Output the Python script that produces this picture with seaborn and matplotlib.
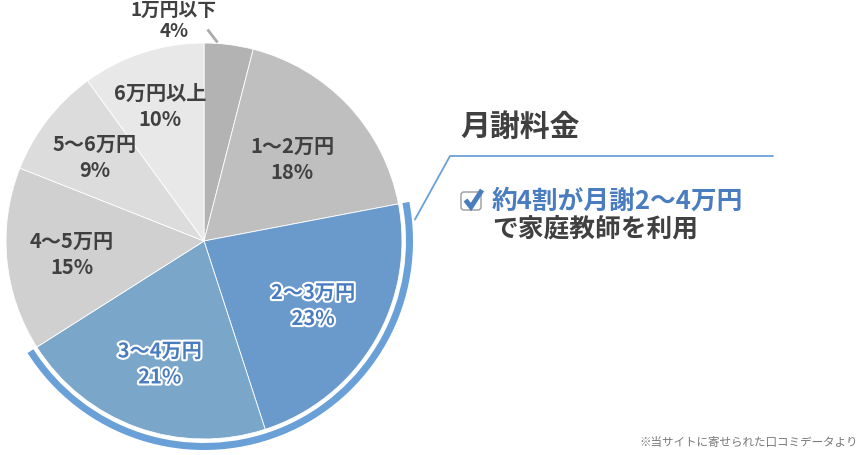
import numpy as np
import matplotlib
matplotlib.use("Agg")
import matplotlib.pyplot as plt
import matplotlib.patheffects as pe
from matplotlib.patches import Wedge, FancyBboxPatch
import seaborn as sns

# data
categories = ["1万円以下", "1〜2万円", "2〜3万円", "3〜4万円", "4〜5万円", "5〜6万円", "6万円以上"]
shares = [4, 18, 23, 21, 15, 9, 10]
slice_colors = ["#b3b3b3", "#bfbfbf", "#6a9acb", "#7aa6ca", "#d0d0d0", "#dcdcdc", "#e8e8e8"]
highlight = ["2〜3万円", "3〜4万円"]

title = "月謝料金"
headline = "約4割が月謝2〜4万円"
subline = "で家庭教師を利用"
note = "※当サイトに寄せられた口コミデータより"

W, H = 868, 456
DARK = "#404040"
BLUE = "#4a7cc0"
ARC = "#6aa0d8"

sns.set_theme(style="white")
plt.rcParams["font.family"] = ["Noto Sans CJK JP", "DejaVu Sans"]

fig = plt.figure(figsize=(W / 100, H / 100), dpi=100)
ax = fig.add_axes([0, 0, 1, 1])

cx, cy, r = 204, H - 242, 198
wedges, _ = ax.pie(
    shares,
    colors=slice_colors,
    startangle=90,
    counterclock=False,
    center=(cx, cy),
    radius=r,
    wedgeprops=dict(edgecolor="white", linewidth=0.6),
)
ax.set_xlim(0, W)
ax.set_ylim(0, H)
ax.set_aspect("equal")
ax.axis("off")

# labels inside slices
dist = [None, 0.61, 0.64, 0.66, 0.67, 0.70, 0.72]
for w, cat, val, d in zip(wedges, categories, shares, dist):
    if d is None:
        continue
    mid = np.deg2rad((w.theta1 + w.theta2) / 2)
    x = cx + d * r * np.cos(mid)
    y = cy + d * r * np.sin(mid)
    if cat in highlight:
        style = dict(fontweight="bold", color=BLUE,
                     path_effects=[pe.withStroke(linewidth=3, foreground="white")])
    else:
        style = dict(fontweight="bold", color=DARK)
    ax.text(x, y + 13, cat, fontsize=14.5, ha="center", va="center", **style)
    ax.text(x, y - 13, f"{val}%", fontsize=14.5, ha="center", va="center", **style)

# small slice label outside with leader
w0 = wedges[0]
a0 = np.deg2rad(w0.theta2 - 0.27 * (w0.theta2 - w0.theta1))
ex, ey = cx + (r + 1) * np.cos(a0), cy + (r + 1) * np.sin(a0)
ax.plot([ex - 10, ex], [ey + 13, ey], color="#aaaaaa", lw=2, solid_capstyle="butt")
ax.text(174, H - 10, categories[0], fontsize=13.5, ha="center", va="center",
        fontweight="bold", color=DARK)
ax.text(174, H - 31, f"{shares[0]}%", fontsize=13.5, ha="center", va="center",
        fontweight="bold", color=DARK)

# highlight arc around the 2-4万円 slices
hw = [w for w, c in zip(wedges, categories) if c in highlight]
t1 = min(w.theta1 for w in hw)
t2 = max(w.theta2 for w in hw)
ax.add_patch(Wedge((cx, cy), r + 11, t1, t2, width=7, color=ARC, lw=0))

# callout line
ca = np.deg2rad(t2 - 5)
ax.plot([cx + (r + 14) * np.cos(ca), 450, 773],
        [cy + (r + 14) * np.sin(ca), H - 157, H - 157],
        color=ARC, lw=1.3, solid_joinstyle="miter")

ax.text(460, H - 127, title, fontsize=21.5, ha="left", va="center",
        fontweight="bold", color=DARK)

# checkbox
ax.add_patch(FancyBboxPatch((461, H - 211), 20, 18,
                            boxstyle="round,pad=0,rounding_size=3",
                            fc="white", ec="#9a9a9a", lw=1))
ax.plot([465.5, 471, 482], [H - 201, H - 208, H - 191], color=BLUE, lw=3.5,
        solid_capstyle="butt", solid_joinstyle="miter")

ax.text(492, H - 201, headline, fontsize=18.5, ha="left", va="center",
        fontweight="bold", color=BLUE)
ax.text(492, H - 229, subline, fontsize=18.5, ha="left", va="center",
        fontweight="bold", color=DARK)

ax.text(858, H - 443, note, fontsize=8.3, ha="right", va="center", color="#777777")

fig.savefig("out.png", dpi=100)
